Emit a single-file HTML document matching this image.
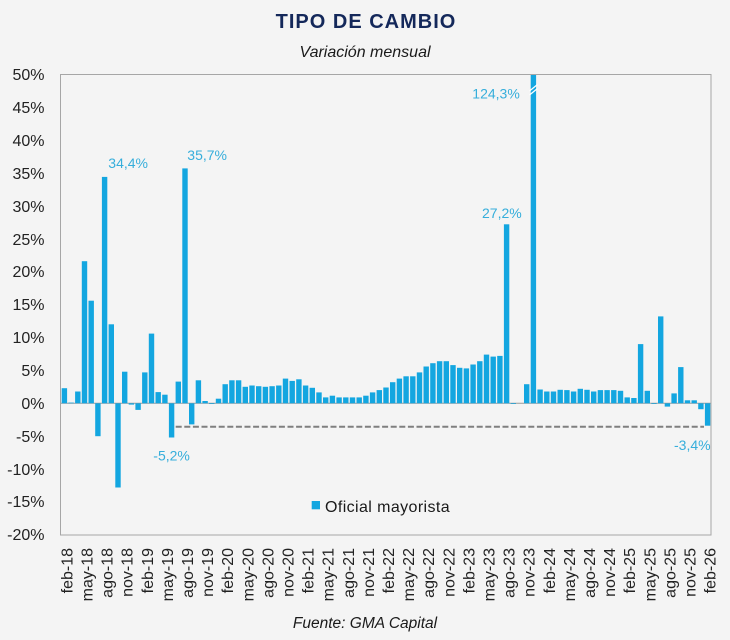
<!DOCTYPE html>
<html><head><meta charset="utf-8"><style>
html,body{margin:0;padding:0;background:#f4f4f4;}
svg{display:block;font-family:"Liberation Sans",sans-serif;}
</style></head><body>
<svg width="730" height="640" viewBox="0 0 730 640" xmlns="http://www.w3.org/2000/svg">
<rect x="0" y="0" width="730" height="640" fill="#f4f4f4"/>
<text x="366" y="28" text-anchor="middle" font-size="20" font-weight="bold" fill="#14285a" letter-spacing="1">TIPO DE CAMBIO</text>
<text x="365" y="57" text-anchor="middle" font-size="16" font-style="italic" fill="#1a1a1a">Variación mensual</text>
<g font-size="16" fill="#222" text-anchor="end">
<text x="44.5" y="80">50%</text>
<text x="44.5" y="113">45%</text>
<text x="44.5" y="146">40%</text>
<text x="44.5" y="179">35%</text>
<text x="44.5" y="212">30%</text>
<text x="44.5" y="245">25%</text>
<text x="44.5" y="277">20%</text>
<text x="44.5" y="310">15%</text>
<text x="44.5" y="343">10%</text>
<text x="44.5" y="376">5%</text>
<text x="44.5" y="409">0%</text>
<text x="44.5" y="442">-5%</text>
<text x="44.5" y="475">-10%</text>
<text x="44.5" y="507">-15%</text>
<text x="44.5" y="540">-20%</text>
</g>
<line x1="60.5" y1="403.3" x2="711" y2="403.3" stroke="#9a9a9a" stroke-width="1"/>
<g fill="#13a6e0">
<rect x="61.7" y="388.2" width="5.4" height="15.1"/>
<rect x="68.4" y="402.6" width="5.4" height="0.7"/>
<rect x="75.1" y="391.5" width="5.4" height="11.8"/>
<rect x="81.8" y="261.2" width="5.4" height="142.1"/>
<rect x="88.5" y="300.7" width="5.4" height="102.6"/>
<rect x="95.2" y="403.3" width="5.4" height="32.9"/>
<rect x="101.9" y="176.9" width="5.4" height="226.4"/>
<rect x="108.6" y="324.3" width="5.4" height="79.0"/>
<rect x="115.3" y="403.3" width="5.4" height="84.2"/>
<rect x="122.0" y="371.7" width="5.4" height="31.6"/>
<rect x="128.7" y="403.3" width="5.4" height="1.3"/>
<rect x="135.4" y="403.3" width="5.4" height="6.6"/>
<rect x="142.1" y="372.4" width="5.4" height="30.9"/>
<rect x="148.8" y="333.6" width="5.4" height="69.7"/>
<rect x="155.5" y="392.1" width="5.4" height="11.2"/>
<rect x="162.2" y="394.7" width="5.4" height="8.6"/>
<rect x="168.9" y="403.3" width="5.4" height="34.2"/>
<rect x="175.6" y="381.6" width="5.4" height="21.7"/>
<rect x="182.3" y="168.4" width="5.4" height="234.9"/>
<rect x="189.0" y="403.3" width="5.4" height="21.1"/>
<rect x="195.7" y="380.3" width="5.4" height="23.0"/>
<rect x="202.4" y="401.0" width="5.4" height="2.3"/>
<rect x="209.1" y="403.3" width="5.4" height="0.7"/>
<rect x="215.8" y="398.7" width="5.4" height="4.6"/>
<rect x="222.5" y="384.2" width="5.4" height="19.1"/>
<rect x="229.2" y="380.3" width="5.4" height="23.0"/>
<rect x="235.9" y="380.3" width="5.4" height="23.0"/>
<rect x="242.6" y="386.8" width="5.4" height="16.5"/>
<rect x="249.3" y="385.5" width="5.4" height="17.8"/>
<rect x="256.0" y="386.2" width="5.4" height="17.1"/>
<rect x="262.7" y="386.8" width="5.4" height="16.5"/>
<rect x="269.4" y="386.2" width="5.4" height="17.1"/>
<rect x="276.1" y="385.5" width="5.4" height="17.8"/>
<rect x="282.8" y="378.6" width="5.4" height="24.7"/>
<rect x="289.5" y="380.9" width="5.4" height="22.4"/>
<rect x="296.2" y="379.3" width="5.4" height="24.0"/>
<rect x="302.9" y="385.5" width="5.4" height="17.8"/>
<rect x="309.6" y="387.8" width="5.4" height="15.5"/>
<rect x="316.3" y="392.4" width="5.4" height="10.9"/>
<rect x="323.0" y="397.4" width="5.4" height="5.9"/>
<rect x="329.7" y="395.7" width="5.4" height="7.6"/>
<rect x="336.4" y="397.4" width="5.4" height="5.9"/>
<rect x="343.1" y="397.4" width="5.4" height="5.9"/>
<rect x="349.8" y="397.4" width="5.4" height="5.9"/>
<rect x="356.5" y="397.4" width="5.4" height="5.9"/>
<rect x="363.2" y="395.7" width="5.4" height="7.6"/>
<rect x="369.9" y="392.4" width="5.4" height="10.9"/>
<rect x="376.6" y="390.1" width="5.4" height="13.2"/>
<rect x="383.3" y="387.5" width="5.4" height="15.8"/>
<rect x="390.0" y="382.2" width="5.4" height="21.1"/>
<rect x="396.7" y="378.6" width="5.4" height="24.7"/>
<rect x="403.4" y="376.3" width="5.4" height="27.0"/>
<rect x="410.1" y="376.3" width="5.4" height="27.0"/>
<rect x="416.8" y="372.4" width="5.4" height="30.9"/>
<rect x="423.5" y="366.5" width="5.4" height="36.8"/>
<rect x="430.2" y="363.2" width="5.4" height="40.1"/>
<rect x="436.9" y="361.2" width="5.4" height="42.1"/>
<rect x="443.6" y="361.2" width="5.4" height="42.1"/>
<rect x="450.3" y="365.1" width="5.4" height="38.2"/>
<rect x="457.0" y="367.8" width="5.4" height="35.5"/>
<rect x="463.7" y="368.4" width="5.4" height="34.9"/>
<rect x="470.4" y="364.5" width="5.4" height="38.8"/>
<rect x="477.1" y="361.2" width="5.4" height="42.1"/>
<rect x="483.8" y="354.6" width="5.4" height="48.7"/>
<rect x="490.5" y="356.6" width="5.4" height="46.7"/>
<rect x="497.2" y="355.9" width="5.4" height="47.4"/>
<rect x="503.9" y="224.3" width="5.4" height="179.0"/>
<rect x="510.6" y="403.3" width="5.4" height="0.7"/>
<rect x="524.0" y="384.2" width="5.4" height="19.1"/>
<rect x="530.7" y="74.5" width="5.4" height="328.8"/>
<rect x="537.4" y="389.5" width="5.4" height="13.8"/>
<rect x="544.1" y="391.5" width="5.4" height="11.8"/>
<rect x="550.8" y="391.5" width="5.4" height="11.8"/>
<rect x="557.5" y="389.8" width="5.4" height="13.5"/>
<rect x="564.2" y="390.1" width="5.4" height="13.2"/>
<rect x="570.9" y="391.5" width="5.4" height="11.8"/>
<rect x="577.6" y="388.8" width="5.4" height="14.5"/>
<rect x="584.3" y="389.8" width="5.4" height="13.5"/>
<rect x="591.0" y="391.5" width="5.4" height="11.8"/>
<rect x="597.7" y="390.1" width="5.4" height="13.2"/>
<rect x="604.4" y="390.1" width="5.4" height="13.2"/>
<rect x="611.1" y="390.1" width="5.4" height="13.2"/>
<rect x="617.8" y="390.8" width="5.4" height="12.5"/>
<rect x="624.5" y="397.4" width="5.4" height="5.9"/>
<rect x="631.2" y="398.0" width="5.4" height="5.3"/>
<rect x="637.9" y="344.1" width="5.4" height="59.2"/>
<rect x="644.6" y="390.8" width="5.4" height="12.5"/>
<rect x="651.3" y="403.3" width="5.4" height="0.7"/>
<rect x="658.0" y="316.4" width="5.4" height="86.9"/>
<rect x="664.7" y="403.3" width="5.4" height="3.3"/>
<rect x="671.4" y="393.4" width="5.4" height="9.9"/>
<rect x="678.1" y="367.1" width="5.4" height="36.2"/>
<rect x="684.8" y="400.3" width="5.4" height="3.0"/>
<rect x="691.5" y="400.3" width="5.4" height="3.0"/>
<rect x="698.2" y="403.3" width="5.4" height="5.9"/>
<rect x="704.9" y="403.3" width="5.4" height="22.4"/>
</g>
<g stroke="#ffffff" stroke-width="1.3">
<line x1="529.5" y1="91" x2="537.5" y2="84.5"/>
<line x1="529.5" y1="95" x2="537.5" y2="88.5"/>
</g>
<line x1="175.7" y1="426.7" x2="704" y2="426.7" stroke="#7f7f7f" stroke-width="2" stroke-dasharray="6,2.6"/>
<rect x="60.5" y="74.5" width="650.5" height="460.5" fill="none" stroke="#a6a6a6" stroke-width="1"/>
<g font-size="14" fill="#36aedb">
<text x="108.3" y="168">34,4%</text>
<text x="187.3" y="160">35,7%</text>
<text x="472.3" y="98.3">124,3%</text>
<text x="482" y="218">27,2%</text>
<text x="153.3" y="460.7">-5,2%</text>
<text x="674" y="450">-3,4%</text>
</g>
<rect x="311.7" y="501" width="8.3" height="8.3" fill="#13a6e0"/>
<text x="325" y="512" font-size="16" fill="#1a1a1a" letter-spacing="0.4">Oficial mayorista</text>
<g font-size="16" fill="#222" text-anchor="end">
<text transform="translate(72.4,548) rotate(-90)">feb-18</text>
<text transform="translate(92.5,548) rotate(-90)">may-18</text>
<text transform="translate(112.6,548) rotate(-90)">ago-18</text>
<text transform="translate(132.7,548) rotate(-90)">nov-18</text>
<text transform="translate(152.8,548) rotate(-90)">feb-19</text>
<text transform="translate(172.9,548) rotate(-90)">may-19</text>
<text transform="translate(193.0,548) rotate(-90)">ago-19</text>
<text transform="translate(213.1,548) rotate(-90)">nov-19</text>
<text transform="translate(233.2,548) rotate(-90)">feb-20</text>
<text transform="translate(253.3,548) rotate(-90)">may-20</text>
<text transform="translate(273.4,548) rotate(-90)">ago-20</text>
<text transform="translate(293.5,548) rotate(-90)">nov-20</text>
<text transform="translate(313.6,548) rotate(-90)">feb-21</text>
<text transform="translate(333.7,548) rotate(-90)">may-21</text>
<text transform="translate(353.8,548) rotate(-90)">ago-21</text>
<text transform="translate(373.9,548) rotate(-90)">nov-21</text>
<text transform="translate(394.0,548) rotate(-90)">feb-22</text>
<text transform="translate(414.1,548) rotate(-90)">may-22</text>
<text transform="translate(434.2,548) rotate(-90)">ago-22</text>
<text transform="translate(454.3,548) rotate(-90)">nov-22</text>
<text transform="translate(474.4,548) rotate(-90)">feb-23</text>
<text transform="translate(494.5,548) rotate(-90)">may-23</text>
<text transform="translate(514.6,548) rotate(-90)">ago-23</text>
<text transform="translate(534.7,548) rotate(-90)">nov-23</text>
<text transform="translate(554.8,548) rotate(-90)">feb-24</text>
<text transform="translate(574.9,548) rotate(-90)">may-24</text>
<text transform="translate(595.0,548) rotate(-90)">ago-24</text>
<text transform="translate(615.1,548) rotate(-90)">nov-24</text>
<text transform="translate(635.2,548) rotate(-90)">feb-25</text>
<text transform="translate(655.3,548) rotate(-90)">may-25</text>
<text transform="translate(675.4,548) rotate(-90)">ago-25</text>
<text transform="translate(695.5,548) rotate(-90)">nov-25</text>
<text transform="translate(715.6,548) rotate(-90)">feb-26</text>
</g>
<text x="365" y="628" text-anchor="middle" font-size="15.5" font-style="italic" fill="#1a1a1a">Fuente: GMA Capital</text>
</svg>
</body></html>
